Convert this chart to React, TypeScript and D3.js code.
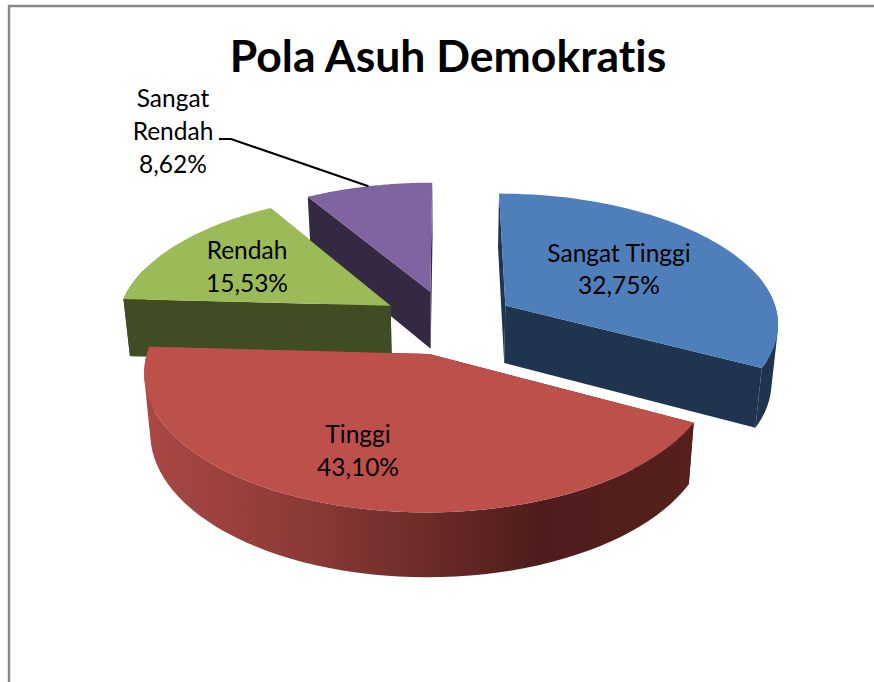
import React from "react";
import * as d3 from "d3";

const categories = ["Sangat Tinggi", "Tinggi", "Rendah", "Sangat Rendah"];
const values = [32.75, 43.1, 15.53, 8.62];
const valueLabels = ["32,75%", "43,10%", "15,53%", "8,62%"];
const topColors = ["#4F7FBA", "#BE504C", "#9BBB59", "#8064A2"];
const sideColors = ["#1F344E", "url(#redWall)", "#404D24", "#352842"];
const drawOrder = [3, 2, 0, 1];

const W = 874, H = 682;
const cx = 448, cy = 322, R = 274, tilt = 0.474, explode = 68, persp = 8, depth = 58, bottomShrink = 0.98;

const pieGen = d3.pie<number>().value((d) => d).sort(null);
const arcs = pieGen(values);
const lineGen = d3.line<[number, number]>();

function project(X: number, Y: number, bottom: boolean): [number, number] {
  const s = persp / (persp - Y / R);
  const k = bottom ? bottomShrink : 1;
  return [cx + X * s * k, cy + Y * tilt * s * k + (bottom ? depth * s : 0)];
}

function world(i: number, angle: number, r: number): [number, number] {
  const a = arcs[i];
  const mid = (a.startAngle + a.endAngle) / 2;
  return [
    explode * Math.sin(mid) + r * Math.sin(angle),
    -explode * Math.cos(mid) - r * Math.cos(angle),
  ];
}

function rimAngles(i: number): number[] {
  const a = arcs[i];
  return d3.range(0, 61).map((k) => a.startAngle + ((a.endAngle - a.startAngle) * k) / 60);
}

function point(i: number, angle: number, r: number, bottom: boolean) {
  const [X, Y] = world(i, angle, r);
  return project(X, Y, bottom);
}

function topFace(i: number) {
  const a = rimAngles(i);
  return lineGen([point(i, 0, 0, false), ...a.map((t) => point(i, t, R, false))]) + "Z";
}

// One path made of quads of the same winding on the side of the rim facing
// the viewer, so its silhouette runs straight from top rim to bottom rim.
function outerWall(i: number): string {
  return d3
    .pairs(rimAngles(i))
    .filter(([t0, t1]) => Math.cos((t0 + t1) / 2) < 0.3)
    .map(([t0, t1]) => {
      const quad: [number, number][] = [
        point(i, t0, R, false),
        point(i, t1, R, false),
        point(i, t1, R, true),
        point(i, t0, R, true),
      ];
      return lineGen(d3.polygonArea(quad) < 0 ? quad.reverse() : quad) + "Z";
    })
    .join("");
}

function cutWall(i: number, angle: number) {
  return (
    lineGen([
      point(i, 0, 0, false),
      point(i, angle, R, false),
      point(i, angle, R, true),
      point(i, 0, 0, true),
    ]) + "Z"
  );
}

const labelPlacement = [
  { x: 619, y: 262, step: 32 },
  { x: 358, y: 443, step: 33 },
  { x: 247, y: 259, step: 33 },
  { x: 173, y: 107, step: 33 },
];
const noLigatures = { fontVariantLigatures: "none" } as const;

export default function App() {
  const leaderEnd = point(3, (arcs[3].startAngle + arcs[3].endAngle) / 2, R, false);
  const leader = lineGen([[219, 139], [231, 139], leaderEnd]) as string;
  return (
    <svg
      width={W}
      height={H}
      viewBox={`0 0 ${W} ${H}`}
      style={{ position: "absolute", left: 0, top: 0, display: "block", background: "#fff" }}
    >
      <defs>
        <linearGradient id="redWall" gradientUnits="userSpaceOnUse" x1={143} x2={692} y1={0} y2={0}>
          <stop offset="0" stopColor="#AA4845" />
          <stop offset="0.3" stopColor="#8B3A37" />
          <stop offset="0.72" stopColor="#4E1D1B" />
          <stop offset="1" stopColor="#55201E" />
        </linearGradient>
      </defs>
      <path d={`M9,${H}V6H${W}`} fill="none" stroke="#868686" strokeWidth={2.4} />
      <text
        x={448}
        y={72}
        textAnchor="middle"
        fontFamily="Lato, 'Open Sans', sans-serif"
        fontWeight={700}
        fontSize={44.5}
        fill="#000"
        style={noLigatures}
      >
        Pola Asuh Demokratis
      </text>
      {drawOrder.map((i) => (
        <g key={categories[i]}>
          <path d={cutWall(i, arcs[i].startAngle)} fill={sideColors[i]} />
          <path d={cutWall(i, arcs[i].endAngle)} fill={sideColors[i]} />
          <path d={outerWall(i)} fill={sideColors[i]} />
          <path d={topFace(i)} fill={topColors[i]} />
        </g>
      ))}
      <path d={leader} fill="none" stroke="#000" strokeWidth={2} />
      {categories.map((c, i) => {
        const lines = i === 3 ? ["Sangat", "Rendah", valueLabels[i]] : [c, valueLabels[i]];
        return (
          <text
            key={c}
            textAnchor="middle"
            fontFamily="Lato, 'Open Sans', sans-serif"
            fontSize={24.5}
            fill="#000"
            style={noLigatures}
          >
            {lines.map((l, k) => (
              <tspan key={k} x={labelPlacement[i].x} y={labelPlacement[i].y + k * labelPlacement[i].step}>
                {l}
              </tspan>
            ))}
          </text>
        );
      })}
    </svg>
  );
}
